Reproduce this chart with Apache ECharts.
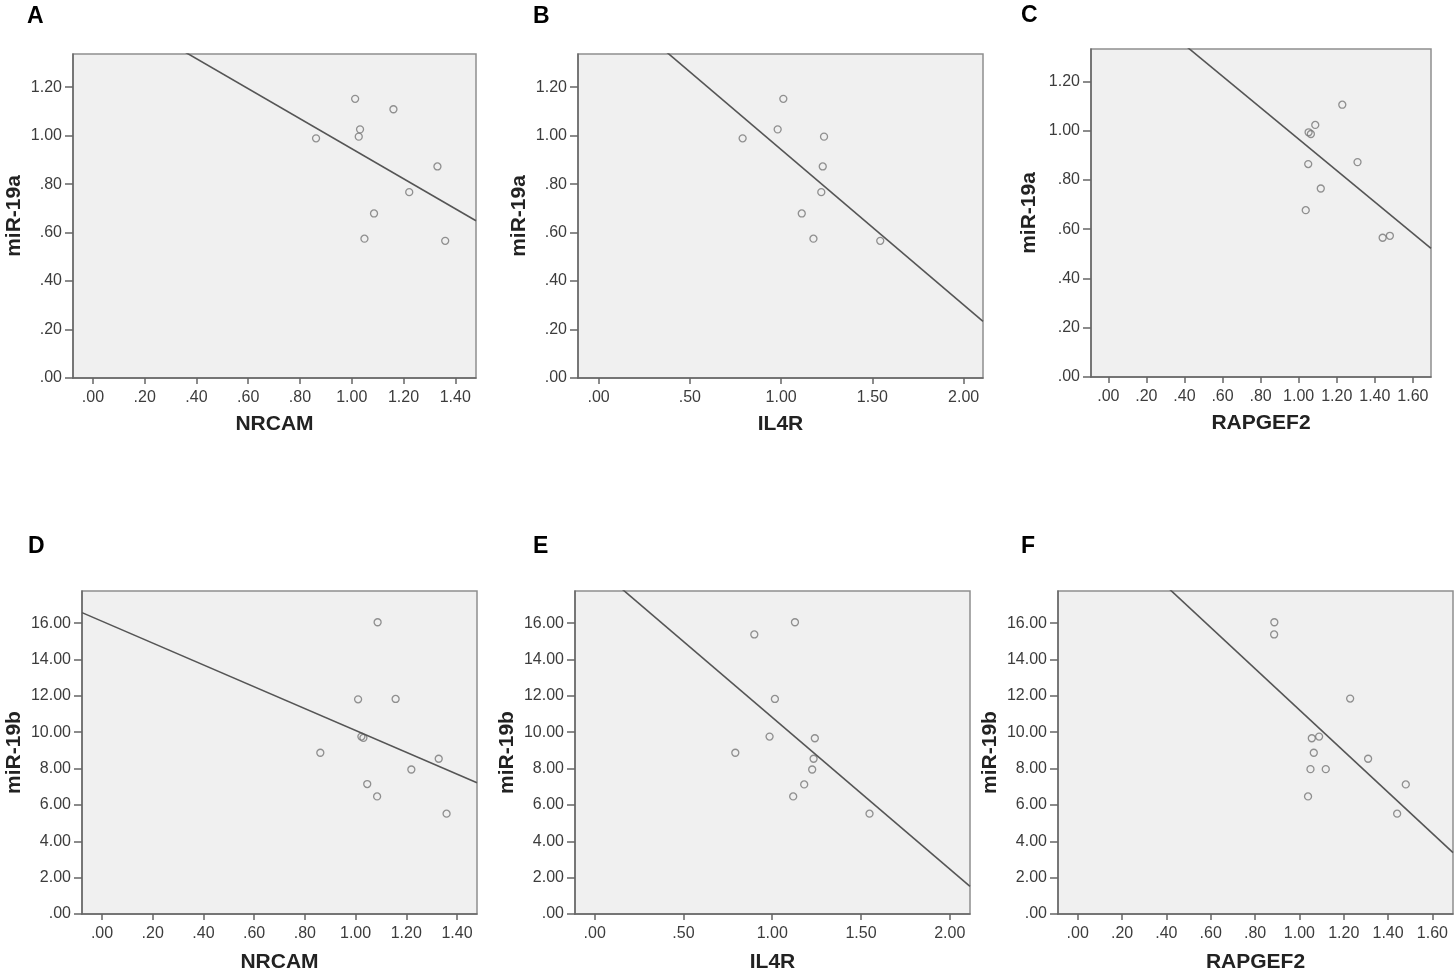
<!DOCTYPE html>
<html>
<head>
<meta charset="utf-8">
<script src="https://cdn.jsdelivr.net/npm/echarts@6/dist/echarts.min.js"></script>
<style>
html,body{margin:0;padding:0;background:#fff;}
#chart{width:1455px;height:971px;}
</style>
</head>
<body>
<div id="chart"></div>
<script>
// values
var nrcamA  = [0.862, 1.013, 1.032, 1.027, 1.161, 1.331, 1.222, 1.086, 1.049, 1.361];
var mir19aA = [0.989, 1.152, 1.026, 0.996, 1.109, 0.873, 0.767, 0.679, 0.575, 0.566];
var fitA    = [[-0.077, 1.613], [1.48, 0.649]];

var il4rB   = [0.789, 1.012, 0.981, 1.235, 1.228, 1.220, 1.113, 1.177, 1.543];
var mir19aB = [0.989, 1.152, 1.026, 0.996, 0.873, 0.767, 0.679, 0.575, 0.566];
var fitB    = [[-0.113, 1.656], [2.106, 0.234]];

var rapC    = [1.229, 1.087, 1.052, 1.064, 1.050, 1.309, 1.116, 1.037, 1.441, 1.479];
var mir19aC = [1.105, 1.023, 0.993, 0.986, 0.864, 0.872, 0.765, 0.677, 0.565, 0.573];
var fitC    = [[-0.091, 1.661], [1.695, 0.522]];

var nrcamD  = [1.087, 1.010, 1.158, 1.023, 1.031, 0.861, 1.328, 1.220, 1.046, 1.085, 1.359];
var mir19bD = [16.05, 11.81, 11.83, 9.76, 9.69, 8.87, 8.54, 7.95, 7.15, 6.47, 5.52];
var fitD    = [[-0.079, 16.58], [1.479, 7.22]];

var il4rE   = [1.128, 0.899, 1.015, 0.985, 1.240, 0.792, 1.233, 1.225, 1.180, 1.118, 1.548];
var mir19bE = [16.05, 15.38, 11.83, 9.76, 9.67, 8.87, 8.54, 7.95, 7.13, 6.47, 5.52];
var fitE    = [[-0.111, 20.09], [2.114, 1.52]];

var rapF    = [0.887, 0.886, 1.229, 1.056, 1.089, 1.065, 1.310, 1.050, 1.119, 1.039, 1.480, 1.441];
var mir19bF = [16.05, 15.38, 11.85, 9.67, 9.76, 8.87, 8.54, 7.97, 7.97, 6.47, 7.13, 5.52];
var fitF    = [[-0.089, 23.57], [1.693, 3.38]];

// tick labels
var ticksNrcam = [0, 0.2, 0.4, 0.6, 0.8, 1.0, 1.2, 1.4];
var ticksIl4r  = [0, 0.5, 1.0, 1.5, 2.0];
var ticksRap   = [0, 0.2, 0.4, 0.6, 0.8, 1.0, 1.2, 1.4, 1.6];
var ticks19a   = [0, 0.2, 0.4, 0.6, 0.8, 1.0, 1.2];
var ticks19b   = [0, 2, 4, 6, 8, 10, 12, 14, 16];

var panels = [
  {letter:'A', xName:'NRCAM',   yName:'miR-19a', x:nrcamA, y:mir19aA, fit:fitA, xt:ticksNrcam, yt:ticks19a, xr:[-0.077, 1.48],  yr:[0, 1.337]},
  {letter:'B', xName:'IL4R',    yName:'miR-19a', x:il4rB,  y:mir19aB, fit:fitB, xt:ticksIl4r,  yt:ticks19a, xr:[-0.113, 2.106], yr:[0, 1.337]},
  {letter:'C', xName:'RAPGEF2', yName:'miR-19a', x:rapC,   y:mir19aC, fit:fitC, xt:ticksRap,   yt:ticks19a, xr:[-0.091, 1.695], yr:[0, 1.331]},
  {letter:'D', xName:'NRCAM',   yName:'miR-19b', x:nrcamD, y:mir19bD, fit:fitD, xt:ticksNrcam, yt:ticks19b, xr:[-0.079, 1.479], yr:[0, 17.77]},
  {letter:'E', xName:'IL4R',    yName:'miR-19b', x:il4rE,  y:mir19bE, fit:fitE, xt:ticksIl4r,  yt:ticks19b, xr:[-0.111, 2.114], yr:[0, 17.77]},
  {letter:'F', xName:'RAPGEF2', yName:'miR-19b', x:rapF,   y:mir19bF, fit:fitF, xt:ticksRap,   yt:ticks19b, xr:[-0.089, 1.693], yr:[0, 17.77]}
];

// plot boxes and letter spots, in pixels
var boxes = [
  {left:73,   top:54,  width:403, height:324, yGap:48, xGap:36, lx:27,   ly:5},
  {left:578,  top:54,  width:405, height:324, yGap:48, xGap:36, lx:533,  ly:5},
  {left:1091, top:49,  width:340, height:328, yGap:51, xGap:36, lx:1021, ly:4},
  {left:82,   top:591, width:395, height:323, yGap:57, xGap:38, lx:28,   ly:535},
  {left:575,  top:591, width:395, height:323, yGap:57, xGap:38, lx:533,  ly:535},
  {left:1058, top:591, width:395, height:323, yGap:57, xGap:38, lx:1021, ly:535}
];

var FONT = '"Liberation Sans", Arial, sans-serif';

function fmt(v) {
  var s = v.toFixed(2);
  if (s.indexOf('0.') === 0) s = s.substring(1);
  return s;
}

var grids = [], xAxes = [], yAxes = [], series = [], graphics = [];

for (var i = 0; i < panels.length; i++) {
  var p = panels[i], b = boxes[i];

  grids.push({
    left: b.left, top: b.top, width: b.width, height: b.height,
    show: true, backgroundColor: '#f0f0f0', borderColor: '#8e8e8e', borderWidth: 1.5,
    outerBoundsMode: 'none'
  });

  xAxes.push({
    gridIndex: i, type: 'value', min: p.xr[0], max: p.xr[1],
    name: p.xName, nameLocation: 'middle', nameGap: b.xGap,
    nameTextStyle: {fontFamily: FONT, fontWeight: 'bold', fontSize: 21, color: '#222'},
    axisLine: {show: true, onZero: false, lineStyle: {color: '#666', width: 1.5}},
    axisTick: {show: true, length: 6, customValues: p.xt, lineStyle: {color: '#666', width: 1.5}},
    axisLabel: {customValues: p.xt, formatter: fmt, margin: 12, fontFamily: FONT, fontSize: 16, color: '#3c3c3c'},
    splitLine: {show: false}
  });

  yAxes.push({
    gridIndex: i, type: 'value', min: p.yr[0], max: p.yr[1],
    name: p.yName, nameLocation: 'middle', nameGap: b.yGap, nameRotate: 90,
    nameTextStyle: {fontFamily: FONT, fontWeight: 'bold', fontSize: 21, color: '#222'},
    axisLine: {show: true, onZero: false, lineStyle: {color: '#666', width: 1.5}},
    axisTick: {show: true, length: 8, customValues: p.yt, lineStyle: {color: '#666', width: 1.5}},
    axisLabel: {customValues: p.yt, formatter: fmt, margin: 11, fontFamily: FONT, fontSize: 16, color: '#3c3c3c'},
    splitLine: {show: false}
  });

  var pts = [];
  for (var j = 0; j < p.x.length; j++) {
    pts.push([p.x[j], p.y[j]]);
  }

  series.push({
    type: 'line', xAxisIndex: i, yAxisIndex: i, data: p.fit,
    symbol: 'none', clip: true, silent: true,
    lineStyle: {color: '#555', width: 1.6}
  });
  series.push({
    type: 'scatter', xAxisIndex: i, yAxisIndex: i, data: pts,
    symbol: 'circle', symbolSize: 7, silent: true,
    itemStyle: {color: 'rgba(240,240,240,0)', borderColor: '#777', borderWidth: 1.3}
  });

  graphics.push({
    type: 'text', left: b.lx, top: b.ly,
    style: {text: p.letter, font: 'bold 23px ' + FONT, fill: '#000'}
  });
}

var myChart = echarts.init(document.getElementById('chart'));
myChart.setOption({
  animation: false,
  grid: grids,
  xAxis: xAxes,
  yAxis: yAxes,
  series: series,
  graphic: graphics
});
</script>
</body>
</html>
